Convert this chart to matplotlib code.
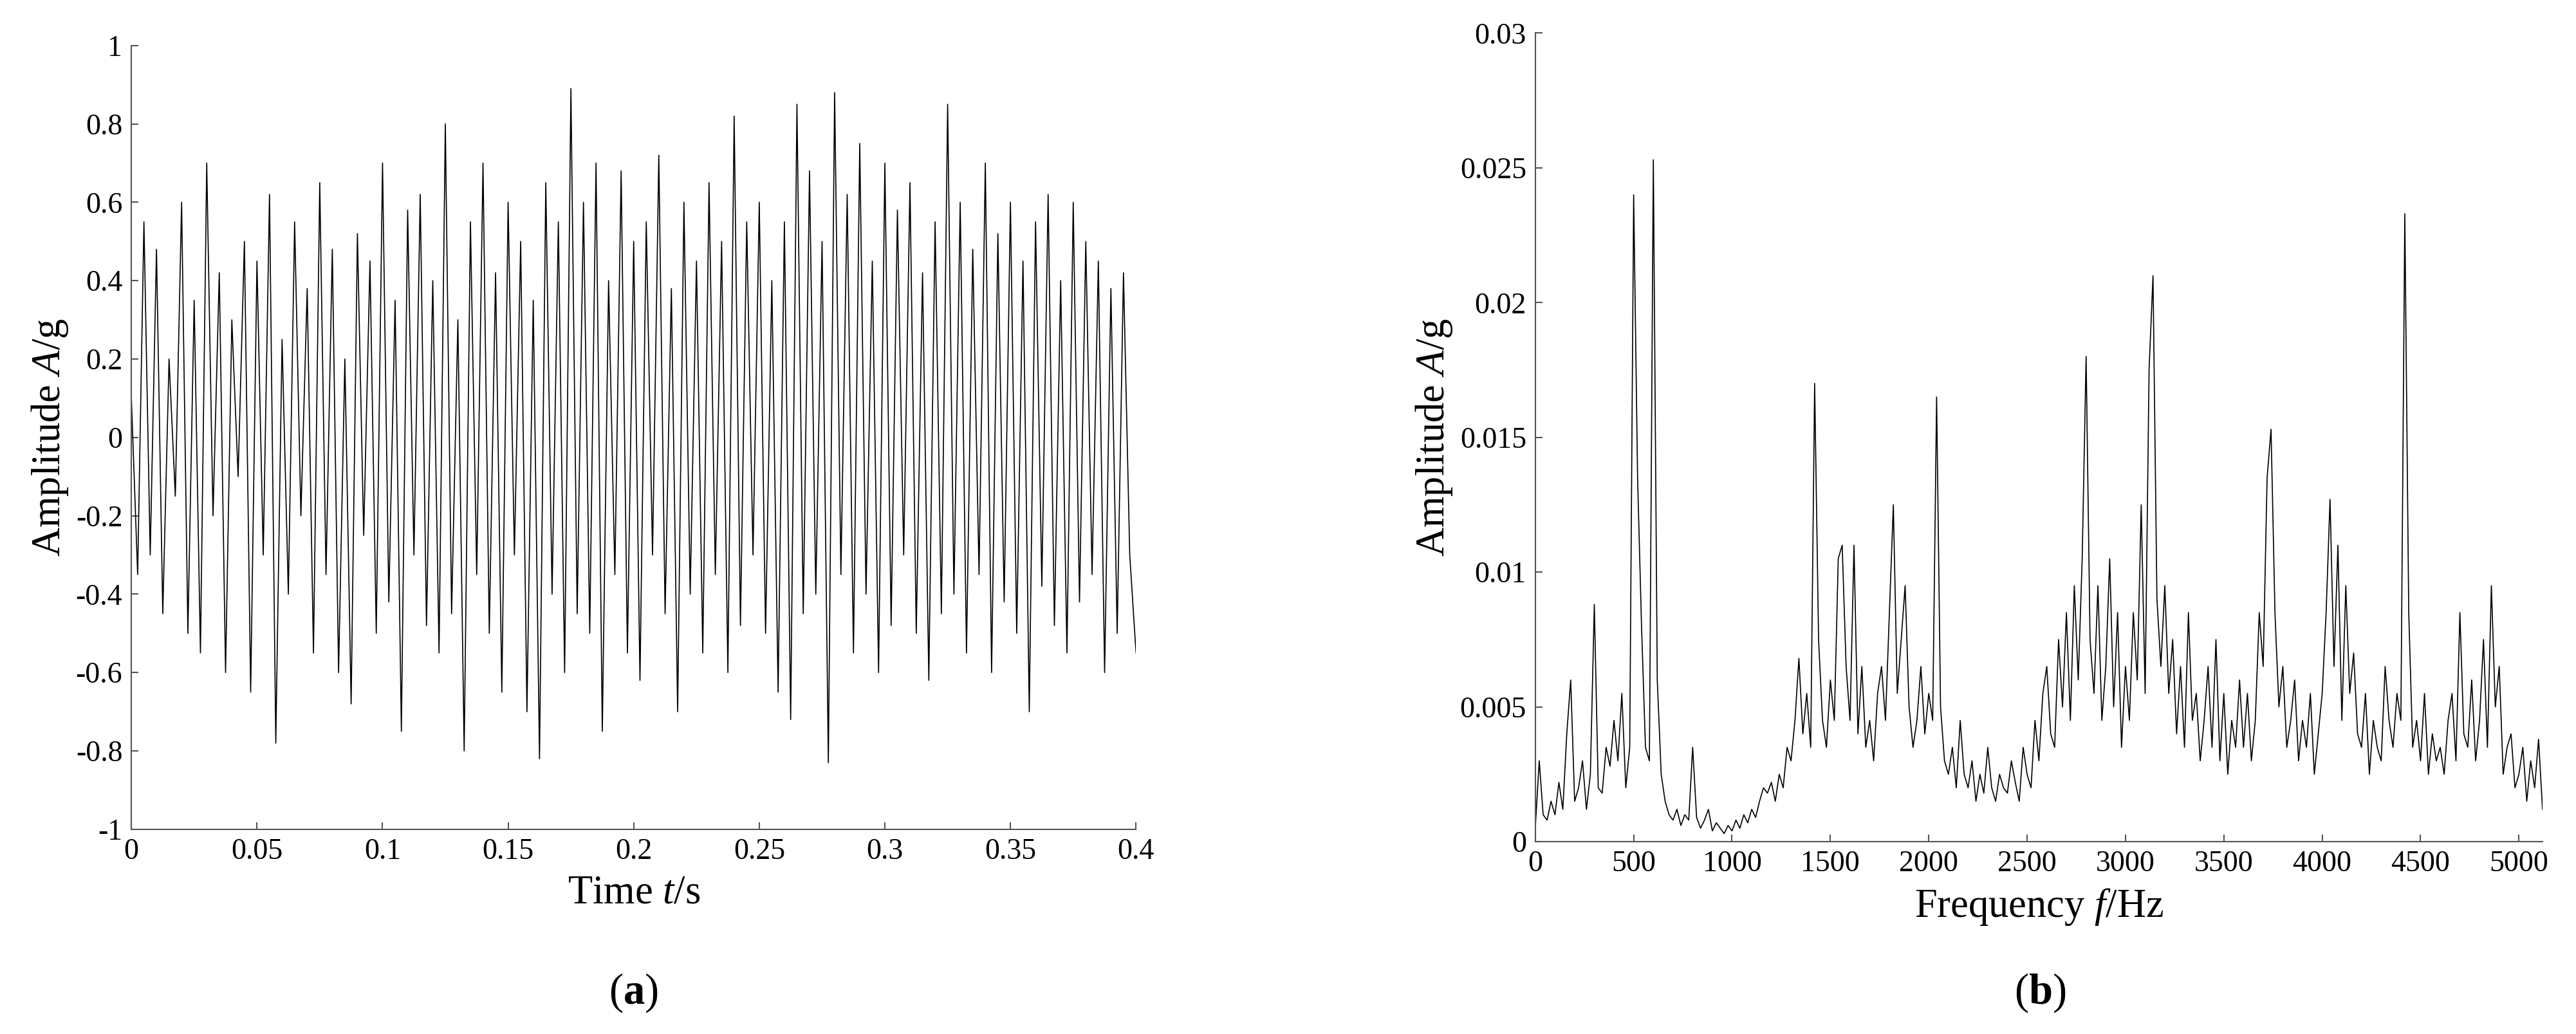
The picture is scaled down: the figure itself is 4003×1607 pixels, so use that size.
import numpy as np
import matplotlib
matplotlib.use("Agg")
import matplotlib.pyplot as plt
from matplotlib.ticker import FuncFormatter

plt.rcParams['font.family'] = ['Liberation Serif']
plt.rcParams['mathtext.fontset'] = 'custom'
plt.rcParams['mathtext.rm'] = 'Liberation Serif'
plt.rcParams['mathtext.it'] = 'Liberation Serif:italic'
plt.rcParams['mathtext.bf'] = 'Liberation Serif:bold'
plt.rcParams['axes.unicode_minus'] = False

time_step = 0.0025
signal = [
0.1,-0.35,0.55,-0.3,0.48,-0.45,0.2,-0.15,0.6,-0.5,
0.35,-0.55,0.7,-0.2,0.42,-0.6,0.3,-0.1,0.5,-0.65,
0.45,-0.3,0.62,-0.78,0.25,-0.4,0.55,-0.2,0.38,-0.55,
0.65,-0.35,0.48,-0.6,0.2,-0.68,0.52,-0.25,0.45,-0.5,
0.7,-0.42,0.35,-0.75,0.58,-0.3,0.62,-0.48,0.4,-0.55,
0.8,-0.45,0.3,-0.8,0.55,-0.35,0.7,-0.5,0.42,-0.65,
0.6,-0.3,0.5,-0.7,0.35,-0.82,0.65,-0.4,0.55,-0.6,
0.89,-0.45,0.6,-0.5,0.7,-0.75,0.4,-0.35,0.68,-0.55,
0.5,-0.62,0.55,-0.3,0.72,-0.45,0.38,-0.7,0.6,-0.4,
0.45,-0.55,0.65,-0.35,0.5,-0.6,0.82,-0.48,0.55,-0.3,
0.6,-0.5,0.4,-0.65,0.55,-0.72,0.85,-0.45,0.68,-0.4,
0.5,-0.83,0.88,-0.35,0.62,-0.55,0.75,-0.4,0.45,-0.6,
0.7,-0.48,0.58,-0.3,0.65,-0.5,0.42,-0.62,0.55,-0.45,
0.85,-0.4,0.6,-0.55,0.48,-0.35,0.7,-0.6,0.52,-0.42,
0.6,-0.5,0.45,-0.7,0.55,-0.38,0.62,-0.48,0.4,-0.55,
0.6,-0.42,0.5,-0.35,0.45,-0.6,0.38,-0.5,0.42,-0.3,
-0.55]

freq_step = 20
spectrum = [
0.0005,0.003,0.001,0.0008,0.0015,0.001,0.0022,0.0012,0.004,0.006,
0.0015,0.002,0.003,0.0012,0.0025,0.0088,0.002,0.0018,0.0035,0.0028,
0.0045,0.003,0.0055,0.002,0.0035,0.024,0.0135,0.008,0.0035,0.003,
0.0253,0.006,0.0025,0.0015,0.001,0.0008,0.0012,0.0006,0.001,0.0008,
0.0035,0.0009,0.0005,0.0008,0.0012,0.0004,0.0007,0.0005,0.0003,0.0006,
0.0004,0.0008,0.0005,0.001,0.0007,0.0012,0.0009,0.0015,0.002,0.0018,
0.0022,0.0015,0.0025,0.002,0.0035,0.003,0.0045,0.0068,0.004,0.0055,
0.0035,0.017,0.0075,0.0045,0.0035,0.006,0.0045,0.0105,0.011,0.0065,
0.0045,0.011,0.004,0.0065,0.0035,0.0045,0.003,0.0055,0.0065,0.0045,
0.0085,0.0125,0.0055,0.0075,0.0095,0.005,0.0035,0.0045,0.0065,0.004,
0.0055,0.0045,0.0165,0.005,0.003,0.0025,0.0035,0.002,0.0045,0.0025,
0.002,0.003,0.0015,0.0025,0.0018,0.0035,0.002,0.0015,0.0025,0.002,
0.0018,0.003,0.0022,0.0015,0.0035,0.0025,0.002,0.0045,0.003,0.0055,
0.0065,0.004,0.0035,0.0075,0.005,0.0085,0.0045,0.0095,0.006,0.0105,
0.018,0.0075,0.0055,0.0095,0.0045,0.0065,0.0105,0.005,0.0085,0.0035,
0.0065,0.0045,0.0085,0.006,0.0125,0.0055,0.0175,0.021,0.009,0.0065,
0.0095,0.0055,0.0075,0.004,0.0065,0.0035,0.0085,0.0045,0.0055,0.003,
0.0045,0.0065,0.0035,0.0075,0.003,0.0055,0.0025,0.0045,0.0035,0.006,
0.0035,0.0055,0.003,0.0045,0.0085,0.0065,0.0135,0.0153,0.0085,0.005,
0.0065,0.0035,0.0045,0.006,0.003,0.0045,0.0035,0.0055,0.0025,0.004,
0.0055,0.0085,0.0127,0.0065,0.011,0.0045,0.0095,0.0055,0.007,0.004,
0.0035,0.0055,0.0025,0.0045,0.0035,0.003,0.0065,0.0045,0.0035,0.0055,
0.0045,0.0233,0.0085,0.0035,0.0045,0.003,0.0055,0.0025,0.004,0.003,
0.0035,0.0025,0.0045,0.0055,0.003,0.0085,0.004,0.0035,0.006,0.003,
0.0045,0.0075,0.0035,0.0095,0.005,0.0065,0.0025,0.0035,0.004,0.002,
0.0025,0.0035,0.0015,0.003,0.002,0.0038,0.0012]

t = np.arange(len(signal)) * time_step
f = np.arange(len(spectrum)) * freq_step

fig = plt.figure(figsize=(40.03, 16.07), dpi=100)
ax1 = fig.add_axes([0.051, 0.198, 0.390, 0.758])
ax2 = fig.add_axes([0.596, 0.186, 0.391, 0.782])

def _fmt(v, p):
    if abs(v) < 1e-9:
        return '0'
    return f'{round(v, 6):g}'
fmt = FuncFormatter(_fmt)
for ax in (ax1, ax2):
    ax.spines['top'].set_visible(False)
    ax.spines['right'].set_visible(False)
    for s in ('left', 'bottom'):
        ax.spines[s].set_linewidth(1.5)
        ax.spines[s].set_color('#555555')
    ax.tick_params(direction='in', length=8, width=1.5, labelsize=33, colors='#555555', labelcolor='black', pad=10)
    ax.xaxis.set_major_formatter(fmt)
    ax.yaxis.set_major_formatter(fmt)

ax1.plot(t, signal, color='black', lw=1.2)
ax1.set_xlim(0, 0.4)
ax1.set_ylim(-1, 1)
ax1.set_xticks(np.arange(0, 0.401, 0.05))
ax1.set_yticks(np.round(np.arange(-1, 1.01, 0.2), 6))
ax1.set_xlabel('Time $t$/s', fontsize=45, labelpad=10)
ax1.set_ylabel('Amplitude $A$/g', fontsize=45, labelpad=6)

ax2.plot(f, spectrum, color='black', lw=1.2)
ax2.set_xlim(0, 5120)
ax2.set_ylim(0, 0.03)
ax2.set_xticks(np.arange(0, 5001, 500))
ax2.set_yticks(np.round(np.arange(0, 0.0301, 0.005), 6))
ax2.set_xlabel('Frequency $f$/Hz', fontsize=45, labelpad=10)
ax2.set_ylabel('Amplitude $A$/g', fontsize=45, labelpad=6)

fig.text(0.246, 0.04, r'($\mathbf{a}$)', fontsize=48, ha='center', va='center')
fig.text(0.792, 0.04, r'($\mathbf{b}$)', fontsize=48, ha='center', va='center')

fig.savefig('out.png', dpi=100, facecolor='white')
